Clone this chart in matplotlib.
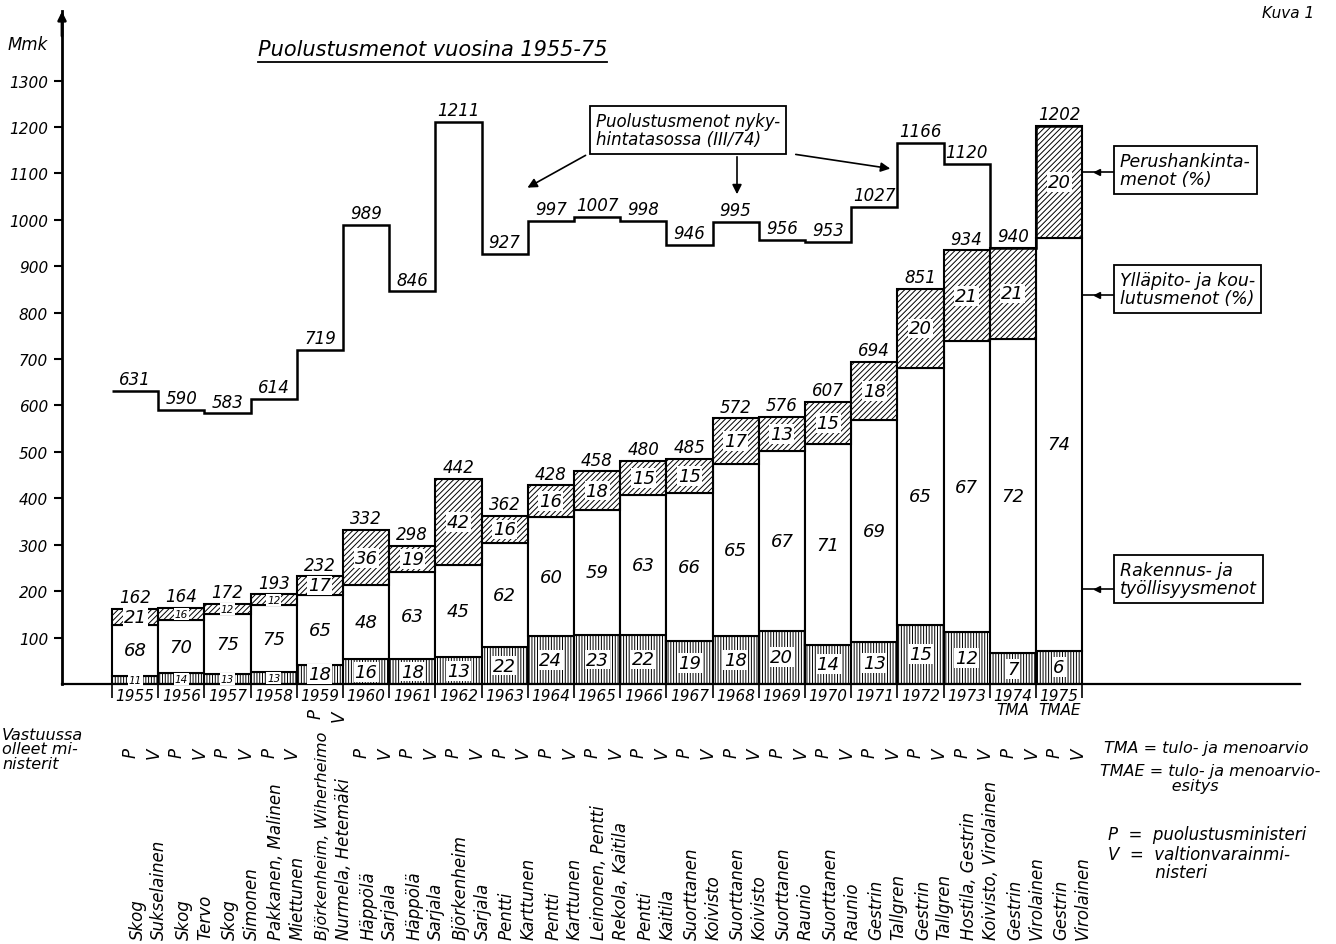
import numpy as np
import matplotlib.pyplot as plt
from matplotlib.lines import Line2D

plt.rcParams['font.family'] = ['DejaVu Sans']
plt.rcParams['font.style'] = 'italic'
plt.rcParams['hatch.color'] = 'black'
plt.rcParams['hatch.linewidth'] = 0.7

# --- data -------------------------------------------------------------
years = [str(y) for y in range(1955, 1976)]
year_labels = years[:19] + ['1974\nTMA', '1975\nTMAE']
totals = [162, 164, 172, 193, 232, 332, 298, 442, 362, 428, 458,
          480, 485, 572, 576, 607, 694, 851, 934, 940, 1202]
# puolustusmenot nykyhintatasossa (III/74)
real = [631, 590, 583, 614, 719, 989, 846, 1211, 927, 997, 1007,
        998, 946, 995, 956, 953, 1027, 1166, 1120, 940, 1202]
pct_build = [11, 14, 13, 13, 18, 16, 18, 13, 22, 24, 23, 22, 19, 18, 20, 14, 13, 15, 12, 7, 6]
pct_upkeep = [68, 70, 75, 75, 65, 48, 63, 45, 62, 60, 59, 63, 66, 65, 67, 71, 69, 65, 67, 72, 74]
pct_procure = [21, 16, 12, 12, 17, 36, 19, 42, 16, 16, 18, 15, 15, 17, 13, 15, 18, 20, 21, 21, 20]
ministers = [
    ('Skog', 'Sukselainen'), ('Skog', 'Tervo'), ('Skog', 'Simonen'),
    ('Pakkanen, Malinen', 'Miettunen'),
    ('Björkenheim, Wiherheimo', 'Nurmela, Hetemäki'),
    ('Häppölä', 'Sarjala'), ('Häppölä', 'Sarjala'), ('Björkenheim', 'Sarjala'),
    ('Pentti', 'Karttunen'), ('Pentti', 'Karttunen'),
    ('Leinonen, Pentti', 'Rekola, Kaitila'), ('Pentti', 'Kaitila'),
    ('Suorttanen', 'Koivisto'), ('Suorttanen', 'Koivisto'),
    ('Suorttanen', 'Raunio'), ('Suorttanen', 'Raunio'),
    ('Gestrin', 'Tallgren'), ('Gestrin', 'Tallgren'),
    ('Hostila, Gestrin', 'Koivisto, Virolainen'),
    ('Gestrin', 'Virolainen'), ('Gestrin', 'Virolainen'),
]

W, H = 1336, 945
fig = plt.figure(figsize=(W / 100, H / 100), dpi=100)

# pixel layout of the drawing
x0_px, bw_px = 135.1, 46.2      # centre of first bar, bar width
y0_px, sy = 685, 0.4642         # baseline, pixels per Mmk
ax_l, ax_r, ax_t = 62, 1300, 12

ax = fig.add_axes([ax_l / W, (H - y0_px) / H, (ax_r - ax_l) / W, (y0_px - ax_t) / H])
ax.set_xlim((ax_l - x0_px) / bw_px, (ax_r - x0_px) / bw_px)
ax.set_ylim(0, (y0_px - ax_t) / sy)


def P(xp, yp):
    """picture pixels -> data coords"""
    return (xp - x0_px) / bw_px, (y0_px - yp) / sy


for s in ['top', 'right']:
    ax.spines[s].set_visible(False)
ax.spines['left'].set_linewidth(2)
ax.spines['bottom'].set_linewidth(1.6)

x = np.arange(len(years))
tot = np.array(totals, dtype=float)
b = tot * np.array(pct_build) / 100
u = tot * np.array(pct_upkeep) / 100
p = tot * np.array(pct_procure) / 100

ax.bar(x, b, width=1, color='white', edgecolor='black', hatch='||||||', lw=1.5)
ax.bar(x, u, bottom=b, width=1, color='white', edgecolor='black', lw=1.5)
ax.bar(x, p, bottom=b + u, width=1, color='white', edgecolor='black', hatch='//////', lw=1.5)

for i in x:
    for k, (val, bot, h) in enumerate([(pct_build[i], 0, b[i]), (pct_upkeep[i], b[i], u[i]),
                                       (pct_procure[i], b[i] + u[i], p[i])]):
        fs = 13 if h > 28 else 7.5
        bg = None if k == 1 else dict(fc='white', ec='none', pad=0.6)
        ax.text(i, bot + h / 2, str(val), ha='center', va='center', fontsize=fs, bbox=bg)
    ax.text(i, totals[i] + 6, str(totals[i]), ha='center', va='bottom', fontsize=12)

# nykyhintainen porrasviiva
ax.stairs(real, np.arange(len(real) + 1) - 0.5, baseline=None, color='black', lw=1.8)
for i in range(19):
    ax.text(i, real[i] + 6, str(real[i]), ha='center', va='bottom', fontsize=12)

# axes ticks
ax.set_yticks(range(100, 1400, 100))
ax.tick_params(axis='y', direction='out', length=6, width=1.5, labelsize=11, pad=4)
ax.set_xticks(x)
ax.set_xticklabels(year_labels, fontsize=11, linespacing=0.9)
ax.set_xticks(np.arange(len(years) + 1) - 0.5, minor=True)
ax.tick_params(axis='x', which='major', length=0, pad=3)
ax.tick_params(axis='x', which='minor', direction='out', length=10, width=1.2)

ax.annotate('', xy=(ax.get_xlim()[0], ax.get_ylim()[1] + 5), xytext=(ax.get_xlim()[0], ax.get_ylim()[1] - 60),
            arrowprops=dict(arrowstyle='-|>', color='black', lw=2, mutation_scale=12), annotation_clip=False)

# nykyhintatasoselite
ax.text(*P(596, 131), 'Puolustusmenot nyky-\nhintatasossa (III/74)', ha='left', va='center', fontsize=12,
        linespacing=1.0, bbox=dict(boxstyle='square,pad=0.35', fc='white', ec='black', lw=1.3))
for (a, c) in [((588, 155), (525, 190)), ((737, 155), (737, 198)), ((793, 155), (893, 170))]:
    ax.annotate('', xy=P(*c), xytext=P(*a),
                arrowprops=dict(arrowstyle='-|>', color='black', lw=1.2, mutation_scale=14))

# oikean reunan selitteet
for text, ybox, yline in [('Perushankinta-\nmenot (%)', 171, 173),
                          ('Ylläpito- ja kou-\nlutusmenot (%)', 290, 296),
                          ('Rakennus- ja\ntyöllisyysmenot', 580, 590)]:
    ax.text(*P(1120, ybox), text, ha='left', va='center', fontsize=12.5, linespacing=1.0,
            bbox=dict(boxstyle='square,pad=0.35', fc='white', ec='black', lw=1.3))
    ax.plot(*zip(P(1082, yline), P(1114, yline)), color='black', lw=1.2, clip_on=False)
    ax.plot(*P(1097, yline), marker='<', ms=5, color='black', clip_on=False)

# ministerit
for i, (pm, vm) in enumerate(ministers):
    yP = P(0, 714)[1] if i == 4 else P(0, 753)[1]
    yV = P(0, 716)[1] if i == 4 else P(0, 753)[1]
    ax.text(i - 0.1, yP, 'P', rotation=90, ha='center', va='center', fontsize=12)
    ax.text(i + 0.4, yV, 'V', rotation=90, ha='center', va='center', fontsize=12)
    for dx, name in [(0.05, pm), (0.52, vm)]:
        fs = 11.5 if len(name) > 20 else 12
        ax.text(i + dx, P(0, 940)[1], name, rotation=90, ha='center', va='bottom', fontsize=fs)

# otsikot ja muut tekstit
title = fig.text(258 / W, 1 - 50 / H, 'Puolustusmenot vuosina 1955-75', ha='left', va='center', fontsize=15)
fig.canvas.draw()
bb = title.get_window_extent(renderer=fig.canvas.get_renderer())
fig.add_artist(Line2D([bb.x0 / W, bb.x1 / W], [1 - 63 / H] * 2, color='black', lw=1.3))
fig.text(8 / W, 1 - 45 / H, 'Mmk', ha='left', va='center', fontsize=12)
fig.text(1262 / W, 1 - 14 / H, 'Kuva 1', ha='left', va='center', fontsize=11)
fig.text(2 / W, 1 - 750 / H, 'Vastuussa\nolleet mi-\nnisterit', ha='left', va='center', fontsize=11.5,
         linespacing=0.95)
fig.text(1104 / W, 1 - 749 / H, 'TMA = tulo- ja menoarvio', ha='left', va='center', fontsize=11.5)
fig.text(1100 / W, 1 - 779 / H, 'TMAE = tulo- ja menoarvio-\n              esitys', ha='left', va='center',
         fontsize=11.5, linespacing=0.95)
fig.text(1108 / W, 1 - 835 / H, 'P  =  puolustusministeri', ha='left', va='center', fontsize=12)
fig.text(1108 / W, 1 - 864 / H, 'V  =  valtionvarainmi-\n         nisteri', ha='left', va='center',
         fontsize=12, linespacing=0.95)

fig.savefig('out.png', dpi=100, facecolor='white')
